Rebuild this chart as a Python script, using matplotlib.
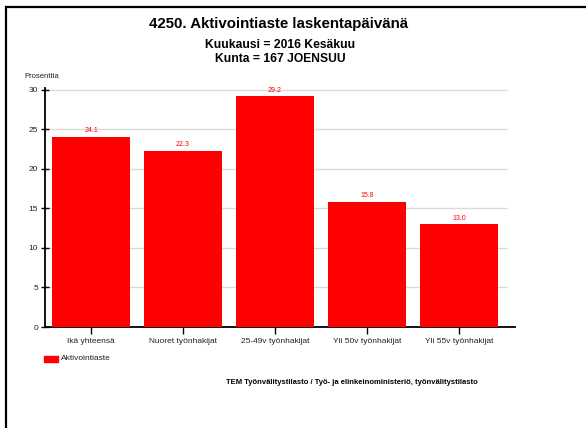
import matplotlib
matplotlib.use("Agg")
import matplotlib.pyplot as plt
from matplotlib.lines import Line2D
from matplotlib.patches import Rectangle

plt.rcParams['font.family'] = ['Liberation Sans', 'DejaVu Sans']

categories = ["Ikä yhteensä", "Nuoret työnhakijat", "25-49v työnhakijat",
              "Yli 50v työnhakijat", "Yli 55v työnhakijat"]
values = [24.1, 22.3, 29.2, 15.8, 13.0]
yticks = [0, 5, 10, 15, 20, 25, 30]
series_name = "Aktivointiaste"
title = "4250. Aktivointiaste laskentapäivänä"
subtitle1 = "Kuukausi = 2016 Kesäkuu"
subtitle2 = "Kunta = 167 JOENSUU"
ylabel = "Prosenttia"
source = "TEM Työnvälitystilasto / Työ- ja elinkeinoministeriö, työnvälitystilasto"

W, H = 587, 428
fig = plt.figure(figsize=(W / 100, H / 100), dpi=100)

ax = fig.add_axes([45 / W, 1 - 327 / H, (515 - 45) / W, (327 - 88) / H])
x = list(range(len(categories)))
ax.bar(x, values, width=0.84, color="#ff0000", zorder=3)
ax.set_xlim(-0.5, 4.61)
ax.set_ylim(0, 30.25)
ax.hlines(yticks[1:], -0.5, 4.52, colors="#dcdcdc", linewidth=1, zorder=1)
for xi, v in zip(x, values):
    ax.text(xi, v + 0.35, f"{v:.1f}", ha="center", va="bottom",
            fontsize=5, color="#ff0000", zorder=4)

ax.set_xticks(x)
ax.set_xticklabels(categories, fontsize=6, color="#222222")
ax.set_yticks(yticks)
ax.set_yticklabels([str(t) for t in yticks], fontsize=6, color="#222222")
ax.tick_params(axis="y", direction="inout", length=6, width=1, pad=2)
ax.tick_params(axis="x", direction="out", length=5, width=1, pad=3)
for s in ["top", "right"]:
    ax.spines[s].set_visible(False)
ax.spines["left"].set_linewidth(1.3)
ax.spines["bottom"].set_linewidth(1.3)

fig.text(279 / W, 1 - 24 / H, title, ha="center", va="center",
         fontsize=10.8, fontweight="bold")
fig.text(280 / W, 1 - 45 / H, subtitle1, ha="center", va="center",
         fontsize=8.7, fontweight="bold")
fig.text(280 / W, 1 - 59 / H, subtitle2, ha="center", va="center",
         fontsize=8.7, fontweight="bold")
fig.text(24 / W, 1 - 76 / H, ylabel, ha="left", va="center", fontsize=5.5,
         color="#222222")

fig.patches.append(Rectangle((44 / W, 1 - 362 / H), 14 / W, 6 / H,
                             transform=fig.transFigure, color="#ff0000"))
fig.text(61 / W, 1 - 359 / H, series_name, ha="left", va="center", fontsize=6,
         color="#222222")

fig.text(478 / W, 1 - 383 / H, source, ha="right", va="center",
         fontsize=5.5, fontweight="bold")

fig.add_artist(Line2D([5.5 / W, 5.5 / W], [0, 1 - 5.7 / H], color="black",
                      linewidth=1.6, transform=fig.transFigure,
                      solid_capstyle="butt"))
fig.add_artist(Line2D([4.7 / W, 586 / W], [1 - 6.5 / H, 1 - 6.5 / H], color="black",
                      linewidth=1.6, transform=fig.transFigure,
                      solid_capstyle="butt"))

fig.savefig("out.png", dpi=100)
